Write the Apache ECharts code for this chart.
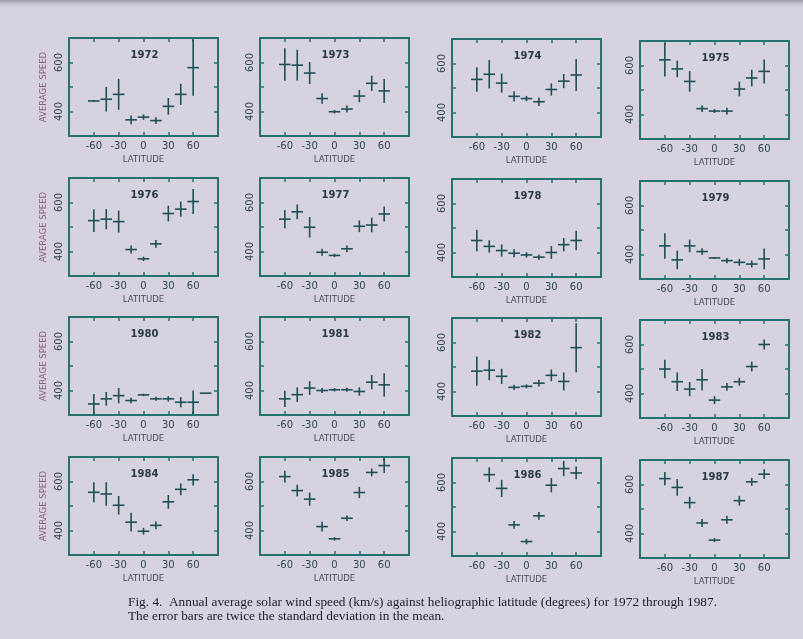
<!DOCTYPE html>
<html>
<head>
<meta charset="utf-8">
<script src="https://cdn.jsdelivr.net/npm/echarts@6/dist/echarts.min.js"></script>
<style>
html,body{margin:0;padding:0;background:#d7d2e0;}
#c{width:803px;height:639px;}
</style>
</head>
<body>
<div id="c"></div>
<script>
// ---------- data ----------
const years = ['1972','1973','1974','1975','1976','1977','1978','1979','1980','1981','1982','1983','1984','1985','1986','1987'];
const latitudes = [-60, -45, -30, -15, 0, 15, 30, 45, 60];
const latitudes1980 = [-60, -45, -30, -15, 0, 15, 30, 45, 60, 75];
const binHalfWidth = 7;
const xTicks = [-60, -30, 0, 30, 60];
const yTickLabels = [400, 600];

const speed1972 = [443, 450, 470, 366, 377, 363, 421, 470, 579];
const error1972 = [3, 50, 63, 18, 11, 14, 34, 43, 115];
const speed1973 = [592, 589, 557, 453, 399, 410, 463, 515, 484];
const error1973 = [66, 63, 45, 21, 7, 14, 25, 31, 49];
const speed1974 = [535, 556, 520, 466, 457, 444, 494, 528, 553];
const error1974 = [50, 58, 39, 21, 11, 17, 25, 29, 65];
const speed1975 = [623, 586, 535, 424, 414, 414, 504, 549, 576];
const error1975 = [68, 34, 42, 14, 8, 14, 30, 34, 49];
const speed1976 = [526, 532, 522, 408, 370, 431, 555, 573, 604];
const error1976 = [46, 41, 45, 16, 9, 16, 32, 31, 51];
const speed1977 = [532, 562, 499, 397, 384, 411, 503, 508, 553];
const error1977 = [37, 30, 42, 14, 7, 14, 24, 30, 31];
const speed1978 = [449, 425, 408, 397, 390, 381, 400, 432, 449];
const error1978 = [44, 25, 25, 16, 11, 11, 26, 27, 40];
const speed1979 = [435, 378, 435, 412, 386, 375, 368, 361, 382];
const error1979 = [52, 38, 26, 14, 3, 11, 14, 14, 42];
const speed1980 = [345, 366, 379, 359, 382, 366, 366, 352, 352, 389];
const error1980 = [41, 28, 31, 11, 5, 8, 11, 21, 48, 0];
const speed1981 = [366, 383, 410, 400, 403, 403, 396, 434, 423];
const error1981 = [33, 30, 28, 10, 7, 8, 17, 29, 47];
const speed1982 = [483, 487, 462, 417, 421, 434, 466, 441, 579];
const error1982 = [60, 41, 31, 11, 8, 14, 24, 37, 100];
const speed1983 = [500, 448, 418, 456, 373, 427, 448, 510, 600];
const error1983 = [38, 38, 29, 44, 16, 16, 16, 20, 20];
const speed1984 = [556, 549, 503, 434, 397, 421, 517, 568, 607];
const error1984 = [41, 48, 38, 38, 14, 16, 28, 24, 23];
const speed1985 = [620, 563, 528, 416, 366, 450, 555, 637, 665];
const error1985 = [24, 24, 27, 20, 7, 11, 23, 16, 30];
const speed1986 = [null, 632, 576, 427, 359, 464, 589, 657, 639];
const error1986 = [null, 30, 35, 16, 11, 16, 29, 31, 26];
const speed1987 = [624, 588, 526, 443, 373, 456, 534, 611, 642];
const error1987 = [27, 34, 24, 16, 8, 16, 20, 16, 20];

const speeds = [speed1972, speed1973, speed1974, speed1975, speed1976, speed1977, speed1978, speed1979,
                speed1980, speed1981, speed1982, speed1983, speed1984, speed1985, speed1986, speed1987];
const errors = [error1972, error1973, error1974, error1975, error1976, error1977, error1978, error1979,
                error1980, error1981, error1982, error1983, error1984, error1985, error1986, error1987];

const captionLine1 = 'Fig. 4.  Annual average solar wind speed (km/s) against heliographic latitude (degrees) for 1972 through 1987.';
const captionLine2 = 'The error bars are twice the standard deviation in the mean.';

// ---------- layout ----------
const colLeft = [69, 260, 452, 640];
const colDy = [0, 0, 1, 3];
const rowTop = [38, 178, 317, 457];
const gw = 149, gh = 98;
const frameColor = '#24736f';
const markColor = '#1d4f56';
const textColor = '#2f4650';

const grids = [], xAxes = [], yAxes = [], series = [], graphics = [];

years.forEach((yr, i) => {
  const r = Math.floor(i / 4), c = i % 4;
  const left = colLeft[c], top = rowTop[r] + colDy[c];
  grids.push({left: left, top: top, width: gw, height: gh, show: false, containLabel: false});
  const axisLineStyle = {show: true, onZero: false, lineStyle: {color: frameColor, width: 2}};
  const tick = {show: true, inside: true, length: 4, lineStyle: {color: frameColor, width: 1.5}};
  xAxes.push({
    type: 'value', gridIndex: i, min: -90, max: 90, interval: 30, position: 'bottom',
    axisLine: axisLineStyle, axisTick: tick, splitLine: {show: false},
    axisLabel: {color: textColor, fontSize: 10, fontFamily: 'DejaVu Sans', margin: 5,
      formatter: v => xTicks.indexOf(v) >= 0 ? String(v) : ''},
    name: 'LATITUDE', nameLocation: 'middle', nameGap: 19,
    nameTextStyle: {color: '#4a4858', fontSize: 9.5, fontFamily: 'DejaVu Sans Condensed'}
  });
  xAxes.push({
    type: 'value', gridIndex: i, min: -90, max: 90, interval: 30, position: 'top',
    axisLine: axisLineStyle, axisTick: tick, splitLine: {show: false}, axisLabel: {show: false}
  });
  const yLeft = {
    type: 'value', gridIndex: i, min: 300, max: 700, interval: 100, position: 'left',
    axisLine: axisLineStyle, axisTick: tick, splitLine: {show: false},
    axisLabel: {color: textColor, fontSize: 10, fontFamily: 'DejaVu Sans', rotate: 90, margin: 5,
      formatter: v => yTickLabels.indexOf(v) >= 0 ? String(v) : ''}
  };
  if (c === 0) {
    yLeft.name = 'AVERAGE SPEED';
    yLeft.nameLocation = 'middle';
    yLeft.nameGap = 20;
    yLeft.nameTextStyle = {color: '#8a607c', fontSize: 9.5, fontFamily: 'DejaVu Sans Condensed'};
  }
  yAxes.push(yLeft);
  yAxes.push({
    type: 'value', gridIndex: i, min: 300, max: 700, interval: 100, position: 'right',
    axisLine: axisLineStyle, axisTick: tick, splitLine: {show: false}, axisLabel: {show: false}
  });
  const lat = yr === '1980' ? latitudes1980 : latitudes;
  const data = [];
  lat.forEach((la, k) => {
    if (speeds[i][k] != null) data.push([la, speeds[i][k], errors[i][k]]);
  });
  series.push({
    type: 'custom', name: yr, xAxisIndex: 2 * i, yAxisIndex: 2 * i, clip: true,
    data: data,
    renderItem: function (params, api) {
      const x = api.value(0), y = api.value(1), e = api.value(2);
      const l = api.coord([x - binHalfWidth, y]);
      const rr = api.coord([x + binHalfWidth, y]);
      const t = api.coord([x, y + e]);
      const b = api.coord([x, y - e]);
      const st = {stroke: markColor, lineWidth: 1.6};
      const cs = params.coordSys;
      return {
        type: 'group',
        clipPath: {type: 'rect', shape: {x: cs.x, y: cs.y, width: cs.width, height: cs.height}},
        children: [
          {type: 'line', shape: {x1: l[0], y1: l[1], x2: rr[0], y2: rr[1]}, style: st},
          {type: 'line', shape: {x1: t[0], y1: t[1], x2: b[0], y2: b[1]}, style: st}
        ]
      };
    }
  });
  graphics.push({
    type: 'text', x: left + gw / 2 + 1, y: top + 12,
    style: {text: yr, fill: '#2a3a44', font: 'bold 10px "DejaVu Sans"', align: 'center', verticalAlign: 'top'}
  });
});

graphics.push({
  type: 'rect', shape: {x: 0, y: 0, width: 803, height: 9},
  style: {fill: {type: 'linear', x: 0, y: 0, x2: 0, y2: 1,
    colorStops: [{offset: 0, color: '#9c99a3'}, {offset: 1, color: 'rgba(215,210,224,0)'}]}},
  z: -10
});
graphics.push({
  type: 'text', x: 128, y: 596,
  style: {text: captionLine1, fill: '#1e1a2a', font: '13.3px "Liberation Serif"', verticalAlign: 'top'}
});
graphics.push({
  type: 'text', x: 128, y: 610,
  style: {text: captionLine2, fill: '#1e1a2a', font: '13.3px "Liberation Serif"', verticalAlign: 'top'}
});

const chart = echarts.init(document.getElementById('c'), null, {renderer: 'canvas'});
chart.setOption({
  backgroundColor: '#d7d2e0',
  animation: false,
  grid: grids,
  xAxis: xAxes,
  yAxis: yAxes,
  series: series,
  graphic: graphics
});
</script>
</body>
</html>
